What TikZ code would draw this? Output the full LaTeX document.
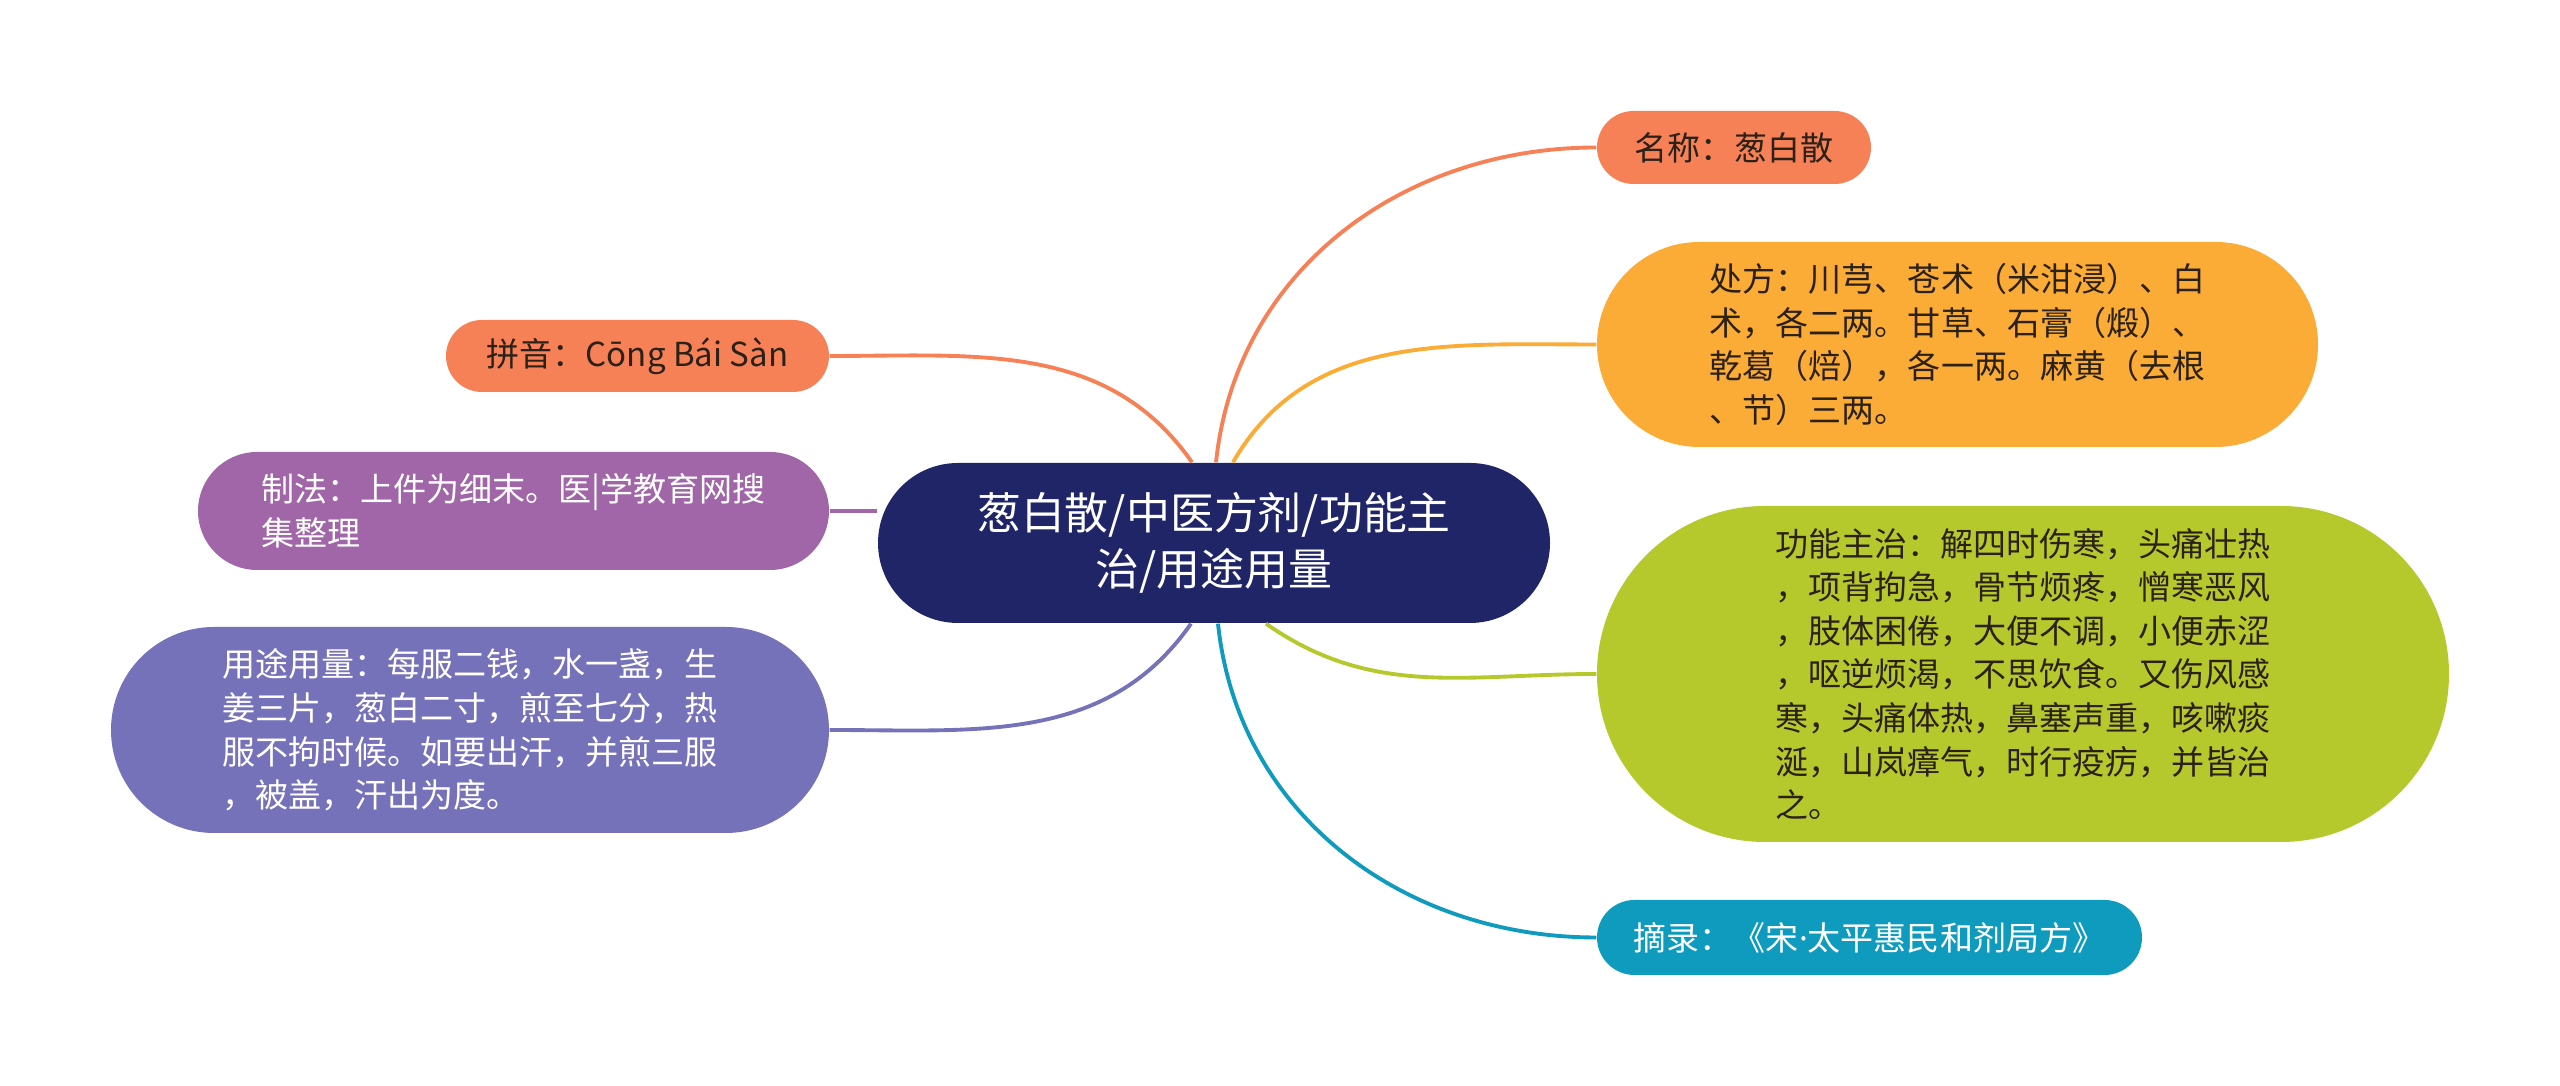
\documentclass[tikz,border=0pt]{standalone}
\usepackage{fontspec}
\setmainfont{Noto Sans CJK SC}
\newfontfamily\latinfont{Noto Sans}
\usepackage{xcolor}
\usepackage{tikz}
\usetikzlibrary{positioning}

\definecolor{navy}{HTML}{1F2566}
\definecolor{coral}{HTML}{F68157}
\definecolor{amber}{HTML}{FBAC36}
\definecolor{lime}{HTML}{B6C92C}
\definecolor{sea}{HTML}{0E9BBE}
\definecolor{plum}{HTML}{A066A8}
\definecolor{iris}{HTML}{7672BA}
\definecolor{ink}{HTML}{2B2118}

\begin{document}
\begin{tikzpicture}[every node/.style={font=\fontsize{9.4}{12.4}\selectfont, inner sep=0pt},
  topic/.style={fill=navy, text=white, align=center, rounded corners=0.8cm,
    minimum width=6.72cm, minimum height=1.6cm, font=\fontsize{12.5}{15.8}\selectfont},
  leaf/.style={align=left},
  link/.style={line width=1.1pt}]
% Canvas
\fill[white] (0,0) rectangle (25.6,10.86);
\useasboundingbox (0,0) rectangle (25.6,10.86);

% Central topic
\node[topic] (root) at (12.14,5.43) {葱白散/中医方剂/功能主\\治/用途用量};

% Right branches
\node[leaf, fill=coral, text=ink, rounded corners=0.365cm,
  minimum width=2.74cm, minimum height=0.73cm] (name) at (17.34,9.385) {名称：葱白散};
\node[leaf, fill=amber, text=ink, rounded corners=1.025cm,
  minimum width=7.21cm, minimum height=2.05cm] (recipe) at (19.575,7.415)
  {处方：川芎、苍术（米泔浸）、白\\术，各二两。甘草、石膏（煅）、\\乾葛（焙），各一两。麻黄（去根\\、节）三两。};
\node[leaf, fill=lime, text=ink, rounded corners=1.68cm,
  minimum width=8.52cm, minimum height=3.36cm] (usage) at (20.23,4.12)
  {功能主治：解四时伤寒，头痛壮热\\，项背拘急，骨节烦疼，憎寒恶风\\，肢体困倦，大便不调，小便赤涩\\，呕逆烦渴，不思饮食。又伤风感\\寒，头痛体热，鼻塞声重，咳嗽痰\\涎，山岚瘴气，时行疫疠，并皆治\\之。};
\node[leaf, fill=sea, text=white, rounded corners=0.375cm,
  minimum width=5.45cm, minimum height=0.75cm] (source) at (18.695,1.485)
  {摘录：《宋{\latinfont ·}太平惠民和剂局方》};

% Left branches
\node[leaf, fill=coral, text=ink, rounded corners=0.36cm,
  minimum width=3.83cm, minimum height=0.72cm] (pinyin) at (6.375,7.30) {拼音：Cōng Bái Sàn};
\node[leaf, fill=plum, text=white, rounded corners=0.59cm,
  minimum width=6.31cm, minimum height=1.18cm] (method) at (5.135,5.75)
  {制法：上件为细末。医|学教育网搜\\集整理};
\node[leaf, fill=iris, text=white, rounded corners=1.03cm,
  minimum width=7.18cm, minimum height=2.06cm] (dose) at (4.70,3.56)
  {用途用量：每服二钱，水一盏，生\\姜三片，葱白二寸，煎至七分，热\\服不拘时候。如要出汗，并煎三服\\，被盖，汗出为度。};

% Connectors
\draw[link, coral] ([xshift=0.2mm]root.north) to[out=84,in=180] (name.west);
\draw[link, amber] ([xshift=1.9mm]root.north) to[out=60,in=180] (recipe.west);
\draw[link, lime] ([xshift=5.2mm]root.south) to[out=-35,in=180] (usage.west);
\draw[link, sea] ([xshift=0.4mm]root.south) to[out=-84,in=180] (source.west);
\draw[link, coral] ([xshift=-2.2mm]root.north) to[out=125,in=0] (pinyin.east);
\draw[link, plum] (method.east) -- (method.east -| root.west);
\draw[link, iris] ([xshift=-2.3mm]root.south) to[out=-125,in=0] (dose.east);
\end{tikzpicture}
\end{document}
